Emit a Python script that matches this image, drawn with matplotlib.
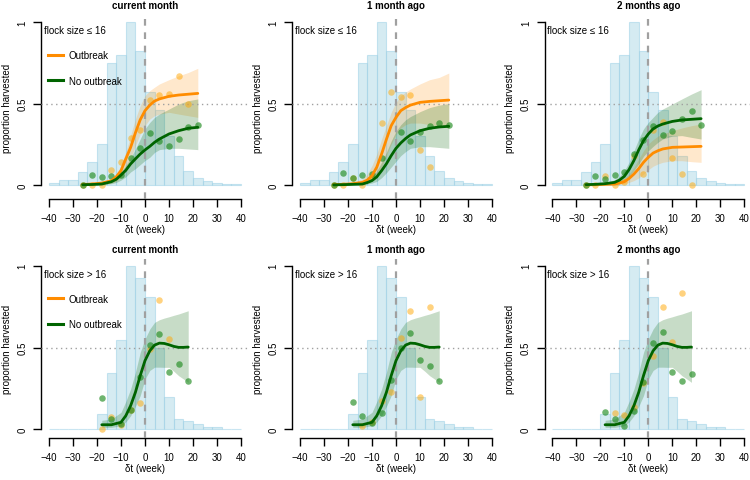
import numpy as np
import matplotlib
matplotlib.use("Agg")
import matplotlib.pyplot as plt
from matplotlib.lines import Line2D

plt.rcParams['font.family'] = ['Liberation Sans', 'DejaVu Sans']
plt.rcParams['font.size'] = 7

# ---- data ----
col_titles = ["current month", "1 month ago", "2 months ago"]
row_labels = ["flock size \u2264 16", "flock size > 16"]

bin_edges = np.arange(-40, 41, 4)
hist_small = [0.015, 0.03, 0.03, 0.08, 0.14, 0.25, 0.75, 0.80, 1.0, 0.82,
              0.57, 0.46, 0.30, 0.175, 0.087, 0.044, 0.022, 0.015, 0.008, 0.006]
hist_large = [0.0, 0.0, 0.005, 0.005, 0.005, 0.094, 0.344, 0.548, 1.0, 0.923,
              0.807, 0.50, 0.20, 0.063, 0.049, 0.032, 0.016, 0.015, 0.003, 0.002]

# fitted curves, flock size <= 16
tx = [-26, -22, -18, -14, -12, -10, -8, -6, -4, -2, 0, 2, 4, 6, 10, 14, 18, 22]

ob0_mid = [0.003, 0.006, 0.012, 0.026, 0.05, 0.088, 0.16, 0.23, 0.32, 0.40, 0.456, 0.49, 0.515, 0.528, 0.544, 0.552, 0.557, 0.562]
ob0_hi = [0.005, 0.01, 0.02, 0.037, 0.067, 0.119, 0.20, 0.303, 0.405, 0.487, 0.548, 0.579, 0.60, 0.62, 0.646, 0.67, 0.69, 0.716]
ob0_lo = [0.001, 0.002, 0.004, 0.012, 0.022, 0.047, 0.088, 0.16, 0.241, 0.313, 0.364, 0.405, 0.425, 0.435, 0.446, 0.435, 0.425, 0.415]
no0_mid = [0.002, 0.003, 0.006, 0.02, 0.035, 0.061, 0.09, 0.129, 0.16, 0.19, 0.215, 0.237, 0.262, 0.282, 0.313, 0.333, 0.348, 0.354]
no0_hi = [0.004, 0.006, 0.01, 0.03, 0.05, 0.08, 0.12, 0.165, 0.221, 0.282, 0.344, 0.384, 0.415, 0.435, 0.466, 0.497, 0.517, 0.528]
no0_lo = [0.001, 0.001, 0.002, 0.008, 0.015, 0.03, 0.05, 0.08, 0.10, 0.125, 0.15, 0.17, 0.20, 0.217, 0.225, 0.225, 0.221, 0.217]

ob1_mid = [0.002, 0.004, 0.008, 0.016, 0.03, 0.057, 0.11, 0.19, 0.28, 0.364, 0.415, 0.456, 0.475, 0.49, 0.507, 0.513, 0.517, 0.521]
ob1_hi = [0.004, 0.008, 0.015, 0.037, 0.067, 0.119, 0.19, 0.282, 0.364, 0.446, 0.507, 0.548, 0.57, 0.589, 0.62, 0.646, 0.66, 0.687]
ob1_lo = [0.001, 0.002, 0.003, 0.008, 0.015, 0.03, 0.06, 0.11, 0.18, 0.25, 0.31, 0.35, 0.37, 0.38, 0.38, 0.37, 0.36, 0.35]
no1_mid = [0.001, 0.002, 0.004, 0.006, 0.015, 0.027, 0.05, 0.088, 0.13, 0.18, 0.225, 0.258, 0.285, 0.307, 0.333, 0.348, 0.356, 0.36]
no1_hi = [0.003, 0.005, 0.008, 0.016, 0.028, 0.05, 0.085, 0.14, 0.20, 0.27, 0.33, 0.37, 0.40, 0.42, 0.45, 0.475, 0.49, 0.50]
no1_lo = [0.0, 0.001, 0.001, 0.003, 0.006, 0.012, 0.022, 0.045, 0.075, 0.11, 0.145, 0.18, 0.205, 0.225, 0.235, 0.235, 0.23, 0.225]

ob2_mid = [0.001, 0.002, 0.004, 0.006, 0.012, 0.02, 0.04, 0.067, 0.10, 0.139, 0.17, 0.196, 0.21, 0.221, 0.231, 0.233, 0.235, 0.237]
ob2_hi = [0.003, 0.004, 0.006, 0.014, 0.025, 0.041, 0.067, 0.108, 0.16, 0.21, 0.252, 0.278, 0.30, 0.313, 0.333, 0.35, 0.364, 0.374]
ob2_lo = [0.0, 0.001, 0.001, 0.002, 0.004, 0.008, 0.016, 0.027, 0.043, 0.067, 0.094, 0.115, 0.129, 0.139, 0.149, 0.149, 0.143, 0.139]
no2_mid = [0.002, 0.004, 0.008, 0.016, 0.03, 0.053, 0.095, 0.15, 0.215, 0.272, 0.313, 0.344, 0.362, 0.374, 0.39, 0.399, 0.403, 0.407]
no2_hi = [0.004, 0.006, 0.01, 0.033, 0.053, 0.088, 0.139, 0.21, 0.282, 0.344, 0.384, 0.415, 0.446, 0.466, 0.497, 0.528, 0.558, 0.585]
no2_lo = [0.001, 0.002, 0.004, 0.008, 0.02, 0.033, 0.053, 0.088, 0.129, 0.176, 0.21, 0.237, 0.262, 0.282, 0.30, 0.303, 0.292, 0.282]

# fitted curve, flock size > 16 (same in all three columns)
bx = [-18, -14, -10, -8, -6, -4, -2, 0, 2, 4, 6, 8, 10, 12, 14, 16, 18]
big_mid = [0.028, 0.028, 0.043, 0.083, 0.144, 0.226, 0.328, 0.42, 0.48, 0.515, 0.527, 0.525, 0.517, 0.507, 0.501, 0.501, 0.503]
big_hi = [0.055, 0.063, 0.104, 0.17, 0.246, 0.348, 0.47, 0.552, 0.613, 0.654, 0.67, 0.68, 0.688, 0.697, 0.705, 0.715, 0.725]
big_lo = [0.012, 0.012, 0.022, 0.045, 0.083, 0.14, 0.206, 0.307, 0.36, 0.38, 0.38, 0.379, 0.379, 0.355, 0.328, 0.308, 0.287]

# observed proportions
nan = np.nan
px_small = [-26, -22, -18, -14, -10, -6, -2, 2, 6, 10, 14, 18, 22]
ob0_pts = [0, 0, 0, 0.092, 0.14, 0.288, 0.34, 0.52, 0.55, 0.556, 0.667, 0.5, nan]
no0_pts = [0, 0.061, 0.047, 0.053, 0.06, 0.166, 0.225, 0.319, 0.272, 0.237, 0.282, 0.358, 0.37]
ob1_pts = [0, 0, 0.04, 0, 0.05, 0.38, 0.569, 0.538, 0.553, 0.216, 0.108, nan, nan]
no1_pts = [0, 0.074, 0.04, 0.063, 0.07, 0.165, nan, 0.327, 0.272, 0.325, 0.362, 0.38, 0.368]
ob2_pts = [0, 0, 0.057, 0, 0.02, 0.176, 0.067, 0.335, 0.389, 0.164, 0.067, 0, nan]
no2_pts = [0, 0.053, 0.037, 0.063, 0.082, 0.189, 0.274, 0.362, 0.307, 0.333, 0.402, 0.455, 0.366]

px_large = [-18, -14, -10, -6, -2, 2, 6, 10, 14, 18]
obL0_pts = [0, 0.077, 0.029, 0.118, 0.159, 0.49, 0.79, 0.552, nan, nan]
noL0_pts = [0.191, 0.063, 0.03, 0.12, 0.318, 0.516, 0.582, 0.348, 0.4, 0.297]
obL1_pts = [nan, 0.022, 0.043, 0.171, 0.226, 0.558, 0.725, 0.2, 0.75, nan]
noL1_pts = [0.165, 0.079, 0.04, 0.098, 0.303, 0.495, 0.587, 0.426, 0.387, 0.297]
obL2_pts = [nan, 0.1, 0.088, 0.139, 0.283, 0.446, 0.745, 0.535, 0.833, nan]
noL2_pts = [0.104, 0.061, 0.022, 0.11, 0.29, 0.53, 0.597, 0.352, 0.297, 0.338]

# ---- styles ----
c_ob = '#ff8c00'
c_no = '#006400'
c_ob_pt = (1.0, 0.65, 0.0, 0.5)
c_no_pt = (0.13, 0.55, 0.13, 0.65)
c_hist = (0.678, 0.847, 0.902, 0.5)
c_hist_e = (0.62, 0.82, 0.90, 0.55)

fig = plt.figure(figsize=(7.5, 4.81), dpi=100)
W, H = 750.0, 481.0
lefts = [41.3, 292.3, 544.6]
row_top = [16.5, 260.2]
row_bot = [200.0, 439.0]
row_ymin = [-0.086, -0.053]
leg_anchor = [0.812, 0.808]

top_fits = [
    (ob0_mid, ob0_lo, ob0_hi, no0_mid, no0_lo, no0_hi, ob0_pts, no0_pts),
    (ob1_mid, ob1_lo, ob1_hi, no1_mid, no1_lo, no1_hi, ob1_pts, no1_pts),
    (ob2_mid, ob2_lo, ob2_hi, no2_mid, no2_lo, no2_hi, ob2_pts, no2_pts),
]
bot_pts = [(obL0_pts, noL0_pts), (obL1_pts, noL1_pts), (obL2_pts, noL2_pts)]

for r in range(2):
    for c in range(3):
        l = lefts[c] / W
        b = 1 - row_bot[r] / H
        h = (row_bot[r] - row_top[r]) / H
        ax = fig.add_axes([l, b, 207.4 / W, h])
        ax.set_xlim(-43.2, 43.2)
        ax.set_ylim(row_ymin[r], 1.04)

        hist = hist_small if r == 0 else hist_large
        ax.bar(bin_edges[:-1], hist, width=4, align='edge', color=c_hist,
               edgecolor=c_hist_e, linewidth=0.8, zorder=1)

        if r == 0:
            om, ol, oh, nm, nl, nh, op, npt = top_fits[c]
            ax.fill_between(tx, ol, oh, color=c_ob, alpha=0.2, lw=0, zorder=2)
            ax.fill_between(tx, nl, nh, color=c_no, alpha=0.22, lw=0, zorder=2)
            pxs = px_small
        else:
            op, npt = bot_pts[c]
            ax.fill_between(bx, big_lo, big_hi, color=c_no, alpha=0.22, lw=0, zorder=2)
            pxs = px_large

        ax.axvline(0, color='#a0a0a0', lw=1.6, dashes=(3, 3), zorder=3)
        ax.axhline(0.5, color='#a0a0a0', lw=1.0, ls=(0, (1, 2.5)), zorder=3)

        ax.scatter(pxs, op, s=22, color=c_ob_pt, lw=0, zorder=4)
        ax.scatter(pxs, npt, s=22, color=c_no_pt, lw=0, zorder=4)

        if r == 0:
            ax.plot(tx, om, color=c_ob, lw=2.0, zorder=5, solid_capstyle='round')
            ax.plot(tx, nm, color=c_no, lw=2.0, zorder=5, solid_capstyle='round')
        else:
            ax.plot(bx, big_mid, color=c_no, lw=2.0, zorder=5, solid_capstyle='round')

        # R-like axes
        for s in ['top', 'right']:
            ax.spines[s].set_visible(False)
        ax.spines['left'].set_bounds(0, 1)
        ax.spines['bottom'].set_bounds(-40, 40)
        ax.spines['left'].set_linewidth(1.0)
        ax.spines['bottom'].set_linewidth(1.0)
        ax.set_xticks(np.arange(-40, 41, 10))
        ax.set_yticks([0, 0.5, 1])
        ax.set_yticklabels(['0', '0.5', '1'], rotation=90, va='center')
        ax.tick_params(axis='x', length=6, width=1.0, pad=4, labelsize=7)
        ax.tick_params(axis='y', length=6, width=1.0, pad=3.8, labelsize=7)
        ax.patch.set_visible(False)

        ax.set_xlabel('\u03b4t (week)', fontsize=7, labelpad=1)
        ax.set_ylabel('proportion harvested', fontsize=7, labelpad=4)
        ax.text(0.5, 1.057, col_titles[c], transform=ax.transAxes, ha='center',
                va='center', fontsize=7, fontweight='bold')
        ax.text(-42, 0.95, row_labels[r], ha='left', va='center', fontsize=7)

        if c == 0:
            handles = [Line2D([], [], color=c_ob, lw=2.2),
                       Line2D([], [], color=c_no, lw=2.2)]
            ax.legend(handles, ['Outbreak', 'No outbreak'], loc='upper left',
                      bbox_to_anchor=(0.03, leg_anchor[r]), frameon=False, fontsize=7,
                      handlelength=1.6, handletextpad=0.6, labelspacing=1.6,
                      borderpad=0, borderaxespad=0)

fig.savefig('out.png', dpi=100)
